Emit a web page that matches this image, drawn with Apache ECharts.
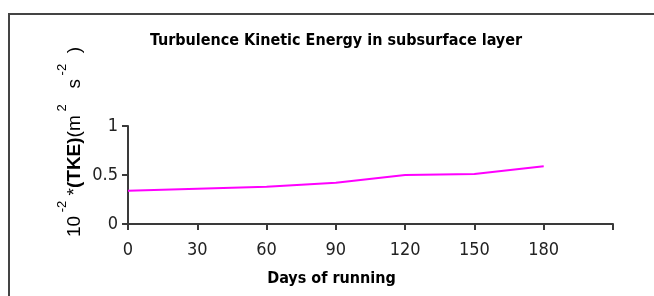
<!DOCTYPE html>
<html>
<head>
<meta charset="utf-8">
<script src="https://cdn.jsdelivr.net/npm/echarts@6/dist/echarts.min.js"></script>
<style>
  html, body { margin: 0; padding: 0; background: #fff; }
  #chart { width: 654px; height: 296px; }
</style>
</head>
<body>
<div id="chart"></div>
<script>
// days of running and TKE (10^-2 m^2 s^-2)
const days = [0, 30, 60, 90, 120, 150, 180]
const tke = [0.34, 0.36, 0.38, 0.42, 0.50, 0.51, 0.59]
const xTicks = [0, 30, 60, 90, 120, 150, 180]
const yTicks = [0, 0.5, 1]

const narrow = '"Liberation Sans Narrow", "DejaVu Sans Condensed", Roboto, sans-serif'
const axisColor = '#3a3a3a'

const chart = echarts.init(document.getElementById('chart'))
chart.setOption({
  animation: false,
  title: {
    text: 'Turbulence Kinetic Energy in subsurface layer',
    left: 331,
    textAlign: 'center',
    top: 28,
    textStyle: { fontFamily: narrow, fontWeight: 'bold', fontSize: 16, color: '#000' }
  },
  grid: { left: 128, right: 41, top: 126, bottom: 72 },
  xAxis: {
    type: 'value',
    min: 0,
    max: 210,
    interval: 30,
    name: 'Days of running',
    nameLocation: 'middle',
    nameGap: 47,
    nameTextStyle: { fontFamily: narrow, fontWeight: 'bold', fontSize: 16, color: '#000', padding: [0, 78, 0, 0] },
    axisLine: { onZero: false, lineStyle: { color: axisColor, width: 2 } },
    axisTick: { show: true, length: 6, lineStyle: { color: axisColor, width: 2 } },
    splitLine: { show: false },
    axisLabel: {
      margin: 17,
      fontFamily: narrow,
      fontSize: 18,
      color: '#222',
      formatter: v => (xTicks.indexOf(v) >= 0 ? String(v) : '')
    }
  },
  yAxis: {
    type: 'value',
    min: 0,
    max: 1,
    interval: 0.5,
    axisLine: { show: true, lineStyle: { color: axisColor, width: 2 } },
    axisTick: { show: true, length: 6, lineStyle: { color: axisColor, width: 2 } },
    splitLine: { show: false },
    axisLabel: {
      margin: 10,
      fontFamily: narrow,
      fontSize: 18,
      color: '#222',
      formatter: v => (yTicks.indexOf(v) >= 0 ? String(v) : '')
    }
  },
  graphic: [
    {
      type: 'rect',
      shape: { x: 9, y: 14, width: 700, height: 400 },
      style: { fill: null, stroke: '#444', lineWidth: 2 },
      silent: true
    },
    {
      type: 'text',
      x: 70,
      y: 142,
      rotation: Math.PI / 2,
      style: {
        text: '{n|10}{s| -2}{n| *}{b|(TKE)}{n|(m}{s| 2}{n|   s}{s| -2}{n|  )}',
        align: 'center',
        verticalAlign: 'middle',
        rich: {
          n: { fontFamily: 'Liberation Sans, Arial, sans-serif', fontSize: 19, color: '#222', lineHeight: 28, verticalAlign: 'bottom' },
          b: { fontFamily: 'Liberation Sans, Arial, sans-serif', fontSize: 19, fontWeight: 'bold', color: '#111', lineHeight: 28, verticalAlign: 'bottom' },
          s: { fontFamily: 'Liberation Sans, Arial, sans-serif', fontSize: 13, color: '#222', lineHeight: 28, verticalAlign: 'top' }
        }
      }
    }
  ],
  series: [{
    type: 'line',
    data: days.map((d, i) => [d, tke[i]]),
    showSymbol: false,
    lineStyle: { color: '#ff00ff', width: 2 }
  }]
})
</script>
</body>
</html>
